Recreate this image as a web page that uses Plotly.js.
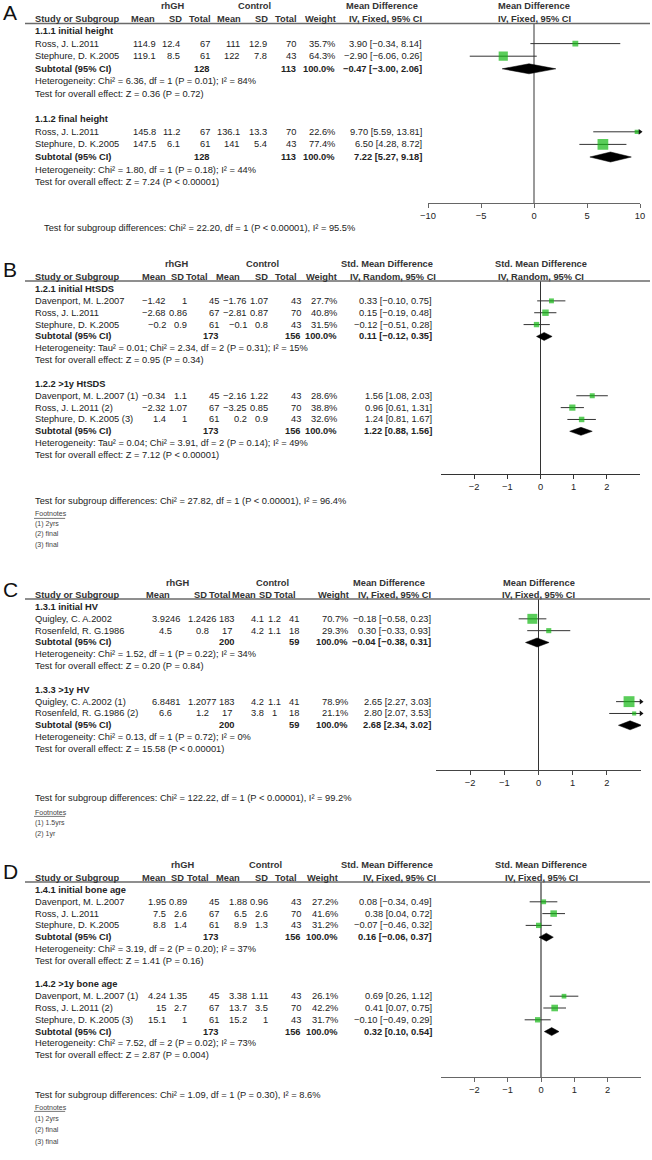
<!DOCTYPE html>
<html><head><meta charset="utf-8">
<script src="https://cdn.plot.ly/plotly-3.0.1.min.js"></script>
<style>html,body{margin:0;padding:0;background:#fff}#chart{width:652px;height:1160px}</style>
</head><body><div id="chart"></div>
<script>
// ================= DATA =================
const colHeaders = ["Mean","SD","Total","Mean","SD","Total","Weight"];
const armHeaders = ["rhGH","Control"];

// ---- Panel A ----
const A_names = ["Ross, J. L.2011","Stephure, D. K.2005","Ross, J. L.2011","Stephure, D. K.2005"];
const A_group = [0,0,1,1];
const A_rhMean = [114.9,119.1,145.8,147.5];
const A_rhSD = [12.4,8.5,11.2,6.1];
const A_rhN = [67,61,67,61];
const A_coMean = [111,122,136.1,141];
const A_coSD = [12.9,7.8,13.3,5.4];
const A_coN = [70,43,70,43];
const A_weight = [35.7,64.3,22.6,77.4];
const A_est = [3.90,-2.90,9.70,6.50];
const A_lo = [-0.34,-6.06,5.59,4.28];
const A_hi = [8.14,0.26,13.81,8.72];
const A_subLabel = ["1.1.1 initial height","1.1.2 final height"];
const A_subRhN = [128,128];
const A_subCoN = [113,113];
const A_subEst = [-0.47,7.22];
const A_subLo = [-3.00,5.27];
const A_subHi = [2.06,9.18];
const A_het = ["Heterogeneity: Chi\u00b2 = 6.36, df = 1 (P = 0.01); I\u00b2 = 84%","Heterogeneity: Chi\u00b2 = 1.80, df = 1 (P = 0.18); I\u00b2 = 44%"];
const A_test = ["Test for overall effect: Z = 0.36 (P = 0.72)","Test for overall effect: Z = 7.24 (P < 0.00001)"];
const A_diff = "Test for subgroup differences: Chi\u00b2 = 22.20, df = 1 (P < 0.00001), I\u00b2 = 95.5%";
const A_foot = [];
const A_method = ["Mean Difference","IV, Fixed, 95% CI"];
const A_ticks = [-10,-5,0,5,10];
const A_range = [-10,10];

// ---- Panel B ----
const B_names = ["Davenport, M. L.2007","Ross, J. L.2011","Stephure, D. K.2005","Davenport, M. L.2007 (1)","Ross, J. L.2011 (2)","Stephure, D. K.2005 (3)"];
const B_group = [0,0,0,1,1,1];
const B_rhMean = [-1.42,-2.68,-0.2,-0.34,-2.32,1.4];
const B_rhSD = [1,0.86,0.9,1.1,1.07,1];
const B_rhN = [45,67,61,45,67,61];
const B_coMean = [-1.76,-2.81,-0.1,-2.16,-3.25,0.2];
const B_coSD = [1.07,0.87,0.8,1.22,0.85,0.9];
const B_coN = [43,70,43,43,70,43];
const B_weight = [27.7,40.8,31.5,28.6,38.8,32.6];
const B_est = [0.33,0.15,-0.12,1.56,0.96,1.24];
const B_lo = [-0.10,-0.19,-0.51,1.08,0.61,0.81];
const B_hi = [0.75,0.48,0.28,2.03,1.31,1.67];
const B_subLabel = ["1.2.1 initial HtSDS","1.2.2 >1y HtSDS"];
const B_subRhN = [173,173];
const B_subCoN = [156,156];
const B_subEst = [0.11,1.22];
const B_subLo = [-0.12,0.88];
const B_subHi = [0.35,1.56];
const B_het = ["Heterogeneity: Tau\u00b2 = 0.01; Chi\u00b2 = 2.34, df = 2 (P = 0.31); I\u00b2 = 15%","Heterogeneity: Tau\u00b2 = 0.04; Chi\u00b2 = 3.91, df = 2 (P = 0.14); I\u00b2 = 49%"];
const B_test = ["Test for overall effect: Z = 0.95 (P = 0.34)","Test for overall effect: Z = 7.12 (P < 0.00001)"];
const B_diff = "Test for subgroup differences: Chi\u00b2 = 27.82, df = 1 (P < 0.00001), I\u00b2 = 96.4%";
const B_foot = ["(1) 2yrs","(2) final","(3) final"];
const B_method = ["Std. Mean Difference","IV, Random, 95% CI"];
const B_ticks = [-2,-1,0,1,2];
const B_range = [-3,3];

// ---- Panel C ----
const C_names = ["Quigley, C. A.2002","Rosenfeld, R. G.1986","Quigley, C. A.2002 (1)","Rosenfeld, R. G.1986 (2)"];
const C_group = [0,0,1,1];
const C_rhMean = [3.9246,4.5,6.8481,6.6];
const C_rhSD = [1.2426,0.8,1.2077,1.2];
const C_rhN = [183,17,183,17];
const C_coMean = [4.1,4.2,4.2,3.8];
const C_coSD = [1.2,1.1,1.1,1];
const C_coN = [41,18,41,18];
const C_weight = [70.7,29.3,78.9,21.1];
const C_est = [-0.18,0.30,2.65,2.80];
const C_lo = [-0.58,-0.33,2.27,2.07];
const C_hi = [0.23,0.93,3.03,3.53];
const C_subLabel = ["1.3.1 initial HV","1.3.3 >1y HV"];
const C_subRhN = [200,200];
const C_subCoN = [59,59];
const C_subEst = [-0.04,2.68];
const C_subLo = [-0.38,2.34];
const C_subHi = [0.31,3.02];
const C_het = ["Heterogeneity: Chi\u00b2 = 1.52, df = 1 (P = 0.22); I\u00b2 = 34%","Heterogeneity: Chi\u00b2 = 0.13, df = 1 (P = 0.72); I\u00b2 = 0%"];
const C_test = ["Test for overall effect: Z = 0.20 (P = 0.84)","Test for overall effect: Z = 15.58 (P < 0.00001)"];
const C_diff = "Test for subgroup differences: Chi\u00b2 = 122.22, df = 1 (P < 0.00001), I\u00b2 = 99.2%";
const C_foot = ["(1) 1.5yrs","(2) 1yr"];
const C_method = ["Mean Difference","IV, Fixed, 95% CI"];
const C_ticks = [-2,-1,0,1,2];
const C_range = [-3,3];

// ---- Panel D ----
const D_names = ["Davenport, M. L.2007","Ross, J. L.2011","Stephure, D. K.2005","Davenport, M. L.2007 (1)","Ross, J. L.2011 (2)","Stephure, D. K.2005 (3)"];
const D_group = [0,0,0,1,1,1];
const D_rhMean = [1.95,7.5,8.8,4.24,15,15.1];
const D_rhSD = [0.89,2.6,1.4,1.35,2.7,1];
const D_rhN = [45,67,61,45,67,61];
const D_coMean = [1.88,6.5,8.9,3.38,13.7,15.2];
const D_coSD = [0.96,2.6,1.3,1.11,3.5,1];
const D_coN = [43,70,43,43,70,43];
const D_weight = [27.2,41.6,31.2,26.1,42.2,31.7];
const D_est = [0.08,0.38,-0.07,0.69,0.41,-0.10];
const D_lo = [-0.34,0.04,-0.46,0.26,0.07,-0.49];
const D_hi = [0.49,0.72,0.32,1.12,0.75,0.29];
const D_subLabel = ["1.4.1 initial bone age","1.4.2 >1y bone age"];
const D_subRhN = [173,173];
const D_subCoN = [156,156];
const D_subEst = [0.16,0.32];
const D_subLo = [-0.06,0.10];
const D_subHi = [0.37,0.54];
const D_het = ["Heterogeneity: Chi\u00b2 = 3.19, df = 2 (P = 0.20); I\u00b2 = 37%","Heterogeneity: Chi\u00b2 = 7.52, df = 2 (P = 0.02); I\u00b2 = 73%"];
const D_test = ["Test for overall effect: Z = 1.41 (P = 0.16)","Test for overall effect: Z = 2.87 (P = 0.004)"];
const D_diff = "Test for subgroup differences: Chi\u00b2 = 1.09, df = 1 (P = 0.30), I\u00b2 = 8.6%";
const D_foot = ["(1) 2yrs","(2) final","(3) final"];
const D_method = ["Std. Mean Difference","IV, Fixed, 95% CI"];
const D_ticks = [-2,-1,0,1,2];
const D_range = [-3,3];

// ================= LAYOUT CONFIG (positions in px) =================
const W = 652, H = 1160;
const FONT = '"Liberation Sans", Arial, sans-serif';
const FS = 9.3;
const FOOT_FS = 7;
const GREEN = '#14b814';

const cfg = [
 {letter:'A', letterY:12, h1:6, h2:19, ul:23.5, row0:31, step:12.6, axisY:203, xDom:[428,640],
  diffX:43, diffY:228, footY0:0, footStep:11,
  hdrX:[156,183,212,242,269,298,337], valX:[157,181,211,241,268,297,336], valAlign:'right',
  effX:423, methodX:382, ivX:423, rhX:173, coX:254, zeroColor:'#9a9a9a', zeroWidth:2, axisColor:'#666', dHalf:5},
 {letter:'B', letterY:270, h1:264, h2:277, ul:281, row0:289, step:11.86, axisY:474, xDom:[441,640],
  diffX:34, diffY:501, footY0:514, footStep:10.2,
  hdrX:[167,185,209,241,269,298,338], valX:[167,188,220,248,269,302,338], valAlign:'right',
  effX:433, methodX:387, ivX:437, rhX:177, coX:262, zeroColor:'#333', zeroWidth:1.2, axisColor:'#333', dHalf:4},
 {letter:'C', letterY:589, h1:583, h2:595, ul:599, row0:607, step:11.83, axisY:770, xDom:[436,641],
  diffX:34, diffY:798, footY0:812, footStep:11,
  hdrX:[171,208,232,257,273,297,350], valX:[166,202,227,257,274,294,349], valAlign:'center',
  effX:432, methodX:389, ivX:432, rhX:178, coX:272, zeroColor:'#333', zeroWidth:1.2, axisColor:'#444', dHalf:4.5},
 {letter:'D', letterY:871, h1:865, h2:878, ul:882, row0:890, step:11.8, axisY:1077, xDom:[441,641],
  diffX:34, diffY:1095, footY0:1107, footStep:11.5,
  hdrX:[167,185,210,241,269,298,339], valX:[167,188,220,248,269,302,339], valAlign:'right',
  effX:433, methodX:387, ivX:437, rhX:183, coX:265, zeroColor:'#888', zeroWidth:1.5, axisColor:'#666', dHalf:4}
];

const panels = [
 {names:A_names, group:A_group, rhMean:A_rhMean, rhSD:A_rhSD, rhN:A_rhN, coMean:A_coMean, coSD:A_coSD, coN:A_coN, weight:A_weight, est:A_est, lo:A_lo, hi:A_hi, subLabel:A_subLabel, subRhN:A_subRhN, subCoN:A_subCoN, subEst:A_subEst, subLo:A_subLo, subHi:A_subHi, het:A_het, test:A_test, diff:A_diff, foot:A_foot, method:A_method, ticks:A_ticks, range:A_range},
 {names:B_names, group:B_group, rhMean:B_rhMean, rhSD:B_rhSD, rhN:B_rhN, coMean:B_coMean, coSD:B_coSD, coN:B_coN, weight:B_weight, est:B_est, lo:B_lo, hi:B_hi, subLabel:B_subLabel, subRhN:B_subRhN, subCoN:B_subCoN, subEst:B_subEst, subLo:B_subLo, subHi:B_subHi, het:B_het, test:B_test, diff:B_diff, foot:B_foot, method:B_method, ticks:B_ticks, range:B_range},
 {names:C_names, group:C_group, rhMean:C_rhMean, rhSD:C_rhSD, rhN:C_rhN, coMean:C_coMean, coSD:C_coSD, coN:C_coN, weight:C_weight, est:C_est, lo:C_lo, hi:C_hi, subLabel:C_subLabel, subRhN:C_subRhN, subCoN:C_subCoN, subEst:C_subEst, subLo:C_subLo, subHi:C_subHi, het:C_het, test:C_test, diff:C_diff, foot:C_foot, method:C_method, ticks:C_ticks, range:C_range},
 {names:D_names, group:D_group, rhMean:D_rhMean, rhSD:D_rhSD, rhN:D_rhN, coMean:D_coMean, coSD:D_coSD, coN:D_coN, weight:D_weight, est:D_est, lo:D_lo, hi:D_hi, subLabel:D_subLabel, subRhN:D_subRhN, subCoN:D_subCoN, subEst:D_subEst, subLo:D_subLo, subHi:D_subHi, het:D_het, test:D_test, diff:D_diff, foot:D_foot, method:D_method, ticks:D_ticks, range:D_range}
];

// ================= BUILD =================
const PX = x => x / W, PY = y => 1 - y / H;
const esc = s => String(s).replace(/&/g,'&amp;').replace(/</g,'&lt;').replace(/>/g,'&gt;');
const num = v => String(v).replace('-', '\u2212');
const f2 = v => v.toFixed(2).replace(/-/g, '\u2212');
const ci = (e,l,h) => f2(e) + ' [' + f2(l) + ', ' + f2(h) + ']';
const msize = w => 1.66 + 0.117 * w;

const annotations = [], shapes = [], traces = [];
const layout = {width:W, height:H, margin:{l:0,r:0,t:0,b:0}, paper_bgcolor:'#fff', plot_bgcolor:'rgba(0,0,0,0)',
  showlegend:false, font:{family:FONT, size:FS, color:'#222'}};

function txt(x, y, text, o) {
  o = o || {};
  annotations.push({xref:'paper', yref:'paper', x:PX(x), y:PY(y), text:(o.bold ? '<b>' + esc(text) + '</b>' : esc(text)),
    showarrow:false, xanchor:o.anchor || 'left', yanchor:'middle', borderpad:0,
    font:{family:FONT, size:o.size || FS, color:o.color || '#222'}});
}

panels.forEach((D, k) => {
  const P = cfg[k];
  const sfx = k === 0 ? '' : String(k + 1);
  const xa = 'x' + sfx, ya = 'y' + sfx;
  const rowPx = r => P.row0 + r * P.step;
  const rowAt = px => (px - P.row0) / P.step;

  const cnt = [0,0];
  D.group.forEach(g => cnt[g]++);
  const base = [0, cnt[0] + 5];
  const seen = [0,0];
  const studyRow = D.group.map(g => { seen[g]++; return base[g] + seen[g]; });
  const subRow = [base[0] + cnt[0] + 1, base[1] + cnt[1] + 1];

  const tpx = (P.xDom[1] - P.xDom[0]);
  layout['xaxis' + sfx] = {domain:[PX(P.xDom[0]), PX(P.xDom[1])], range:D.range, anchor:ya,
    showline:true, linecolor:P.axisColor, linewidth:1.2, showgrid:false,
    zeroline:true, zerolinecolor:P.zeroColor, zerolinewidth:P.zeroWidth,
    ticks:'outside', ticklen:4, tickwidth:1, tickcolor:P.axisColor,
    tickvals:D.ticks, ticktext:D.ticks.map(num), tickfont:{family:FONT, size:FS, color:'#222'}, fixedrange:true};
  layout['yaxis' + sfx] = {domain:[PY(P.axisY), PY(P.ul)], range:[rowAt(P.axisY), rowAt(P.ul)], anchor:xa,
    visible:false, showgrid:false, zeroline:false, fixedrange:true};

  const zeroPx = P.xDom[0] + (0 - D.range[0]) / (D.range[1] - D.range[0]) * tpx;

  txt(2, P.letterY, P.letter, {size:21, color:'#111'});
  txt(P.rhX, P.h1, armHeaders[0], {anchor:'center', bold:true, color:'#333'});
  txt(P.coX, P.h1, armHeaders[1], {anchor:'center', bold:true, color:'#333'});
  txt(P.methodX, P.h1, D.method[0], {anchor:'center', bold:true, color:'#333'});
  txt(zeroPx, P.h1, D.method[0], {anchor:'center', bold:true, color:'#333'});
  txt(34, P.h2, 'Study or Subgroup', {bold:true, color:'#333'});
  colHeaders.forEach((h, j) => txt(P.hdrX[j], P.h2, h, {anchor:'right', bold:true, color:'#333'}));
  txt(P.ivX, P.h2, D.method[1], {anchor:'right', bold:true, color:'#333'});
  txt(zeroPx, P.h2, D.method[1], {anchor:'center', bold:true, color:'#333'});
  shapes.push({type:'line', xref:'paper', yref:'paper', x0:PX(25), x1:PX(650), y0:PY(P.ul), y1:PY(P.ul),
    line:{color:'#6a6a6a', width:1.3}});

  const va = P.valAlign;
  D.names.forEach((nm, i) => {
    const y = rowPx(studyRow[i]);
    txt(34, y, nm);
    const vals = [D.rhMean[i], D.rhSD[i], D.rhN[i], D.coMean[i], D.coSD[i], D.coN[i]];
    vals.forEach((v, j) => txt(P.valX[j], y, num(v), {anchor:va}));
    txt(P.valX[6], y, D.weight[i].toFixed(1) + '%', {anchor:'right'});
    txt(P.effX, y, ci(D.est[i], D.lo[i], D.hi[i]), {anchor:'right'});
  });
  [0,1].forEach(g => {
    txt(34, rowPx(base[g]), D.subLabel[g], {bold:true});
    const ys = rowPx(subRow[g]);
    txt(34, ys, 'Subtotal (95% CI)', {bold:true});
    txt(P.valX[2], ys, String(D.subRhN[g]), {anchor:va, bold:true});
    txt(P.valX[5], ys, String(D.subCoN[g]), {anchor:va, bold:true});
    txt(P.valX[6], ys, '100.0%', {anchor:'right', bold:true});
    txt(P.effX, ys, ci(D.subEst[g], D.subLo[g], D.subHi[g]), {anchor:'right', bold:true});
    txt(34, rowPx(subRow[g] + 1), D.het[g]);
    txt(34, rowPx(subRow[g] + 2), D.test[g]);
  });
  txt(P.diffX, P.diffY, D.diff);
  if (D.foot.length) {
    txt(34, P.footY0, 'Footnotes', {size:FOOT_FS, color:'#444'});
    shapes.push({type:'line', xref:'paper', yref:'paper', x0:PX(34), x1:PX(34 + 4.45 * FOOT_FS), y0:PY(P.footY0 + 4.4), y1:PY(P.footY0 + 4.4),
      line:{color:'#555', width:0.8}});
    D.foot.forEach((f, j) => txt(34, P.footY0 + (j + 1) * P.footStep, f, {size:FOOT_FS, color:'#444'}));
  }

  const lx = [], ly = [], arX = [], arY = [], arS = [];
  D.est.forEach((e, i) => {
    const l = Math.max(D.lo[i], D.range[0]), h = Math.min(D.hi[i], D.range[1]);
    lx.push(l, h, null); ly.push(studyRow[i], studyRow[i], null);
    if (D.hi[i] > D.range[1]) { arX.push(D.range[1]); arY.push(studyRow[i]); arS.push('triangle-right'); }
    if (D.lo[i] < D.range[0]) { arX.push(D.range[0]); arY.push(studyRow[i]); arS.push('triangle-left'); }
  });
  traces.push({type:'scatter', mode:'lines', x:lx, y:ly, xaxis:xa, yaxis:ya, line:{color:'#333', width:1}, hoverinfo:'skip'});
  traces.push({type:'scatter', mode:'markers', x:D.est, y:studyRow, xaxis:xa, yaxis:ya,
    marker:{symbol:'square', size:D.weight.map(msize), color:GREEN, line:{width:0}}, hoverinfo:'skip'});
  if (arX.length) traces.push({type:'scatter', mode:'markers', x:arX, y:arY, xaxis:xa, yaxis:ya, cliponaxis:false,
    marker:{symbol:arS, size:5, color:'#111', line:{width:0}}, hoverinfo:'skip'});
  const hr = P.dHalf / P.step;
  [0,1].forEach(g => {
    const r = subRow[g];
    traces.push({type:'scatter', mode:'lines', fill:'toself', fillcolor:'#000',
      x:[D.subLo[g], D.subEst[g], D.subHi[g], D.subEst[g], D.subLo[g]],
      y:[r, r - hr, r, r + hr, r], xaxis:xa, yaxis:ya, line:{color:'#000', width:0.5}, hoverinfo:'skip'});
  });
});

layout.annotations = annotations;
layout.shapes = shapes;
Plotly.newPlot('chart', traces, layout, {staticPlot:true, displayModeBar:false});
</script>
</body></html>
